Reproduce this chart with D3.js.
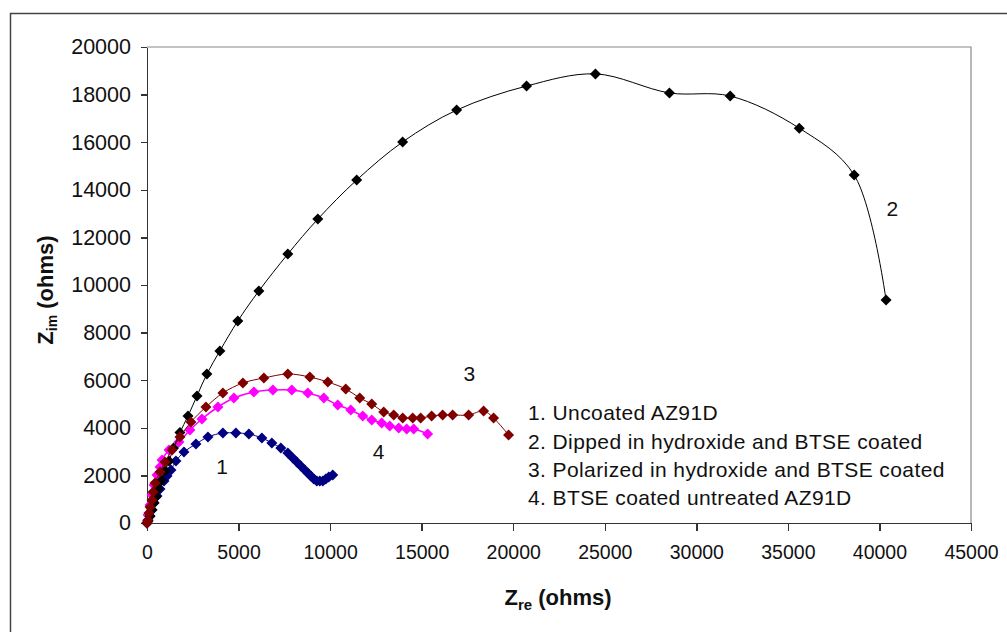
<!DOCTYPE html>
<html>
<head>
<meta charset="utf-8">
<script src="https://d3js.org/d3.v7.min.js"></script>
<style>
body { margin: 0; background: #fff; }
text { font-family: Arial, "Liberation Sans", sans-serif; fill: #111; }
.axis path, .axis line { stroke: #333; stroke-width: 1.5px; shape-rendering: crispEdges; }
.axis text { font-size: 21.5px; }
.axis.x text { font-size: 19.5px; }
.title { font-size: 22px; font-weight: bold; }
.note { font-size: 21px; }
.legend { font-size: 21px; letter-spacing: 0.4px; }
</style>
</head>
<body>
<script>
// Nyquist data (ohms)
var zre1 = [0, 55, 164, 273, 382, 545, 709, 927, 1091, 1309, 1582, 2018, 2673, 3327, 4145, 4855, 5564, 6273, 6818, 7309, 7691, 7964, 8182, 8400, 8618, 8782, 8945, 9109, 9273, 9436, 9600, 9764, 9927, 10145];
var zim1 = [0, 84, 294, 546, 840, 1134, 1429, 1765, 1975, 2227, 2605, 2983, 3319, 3614, 3782, 3782, 3740, 3572, 3362, 3151, 2941, 2731, 2563, 2395, 2227, 2101, 1975, 1849, 1765, 1765, 1765, 1849, 1933, 2017];

var zre2 = [0, 50, 160, 270, 380, 490, 600, 800, 1000, 1200, 1450, 1800, 2240, 2730, 3270, 3980, 4960, 6110, 7690, 9330, 11450, 13960, 16910, 20730, 24490, 28530, 31850, 35620, 38620, 40360];
var zim2 = [0, 100, 280, 560, 850, 1100, 1450, 1800, 2200, 2600, 3150, 3800, 4500, 5340, 6260, 7230, 8490, 9750, 11300, 12770, 14410, 16010, 17350, 18360, 18870, 18070, 17940, 16590, 14620, 9370];

var zre3 = [0, 55, 109, 164, 273, 327, 436, 709, 982, 1364, 1800, 2400, 3218, 4145, 5236, 6382, 7691, 8891, 9873, 10855, 11618, 12273, 12927, 13473, 13964, 14509, 14945, 15545, 16145, 16691, 17564, 18382, 18927, 19745];
var zim3 = [0, 126, 420, 672, 966, 1303, 1681, 2143, 2563, 3067, 3614, 4244, 4874, 5463, 5883, 6093, 6261, 6135, 5925, 5631, 5253, 5000, 4664, 4538, 4412, 4412, 4412, 4496, 4538, 4538, 4538, 4706, 4412, 3698];

var zre4 = [0, 55, 164, 273, 382, 545, 709, 818, 1200, 1745, 2345, 3000, 3873, 4745, 5836, 6873, 7909, 8782, 9655, 10418, 11127, 11782, 12273, 12818, 13255, 13745, 14182, 14564, 15327];
var zim4 = [0, 336, 756, 1176, 1597, 2017, 2353, 2647, 3067, 3403, 3908, 4370, 4874, 5253, 5505, 5589, 5589, 5463, 5253, 4958, 4748, 4496, 4328, 4202, 4076, 3992, 3950, 3950, 3740];

var xTicks = [0, 5000, 10000, 15000, 20000, 25000, 30000, 35000, 40000, 45000];
var yTicks = [0, 2000, 4000, 6000, 8000, 10000, 12000, 14000, 16000, 18000, 20000];

var legendLabels = ["1. Uncoated AZ91D", "2. Dipped in hydroxide and BTSE coated",
                    "3. Polarized in hydroxide and BTSE coated", "4. BTSE coated untreated AZ91D"];

// curve number labels placed in data units
var noteText = ["1", "2", "3", "4"];
var noteRe = [4100, 40700, 17600, 12650];
var noteIm = [2350, 13200, 6260, 2980];

var width = 1007, height = 632;

var svg = d3.select("body").append("svg")
    .attr("width", width)
    .attr("height", height);

// outer chart frame
svg.append("rect")
    .attr("x", 10.5).attr("y", 13.5)
    .attr("width", 1010).attr("height", 640)
    .attr("fill", "none")
    .attr("stroke", "#444")
    .attr("stroke-width", 1.5);

var x = d3.scaleLinear().domain([0, 45000]).range([147, 971]);
var y = d3.scaleLinear().domain([0, 20000]).range([523, 47]);

// plot area border (top/right grey)
svg.append("path")
    .attr("d", "M" + x(0) + "," + y(20000) + "H" + x(45000) + "V" + y(0))
    .attr("fill", "none")
    .attr("stroke", "#888")
    .attr("stroke-width", 1.2);

svg.append("g")
    .attr("class", "axis x")
    .attr("transform", "translate(0," + y(0) + ")")
    .call(d3.axisBottom(x).tickValues(xTicks).tickSize(8).tickSizeOuter(0).tickPadding(14).tickFormat(d3.format("d")));

svg.append("g")
    .attr("class", "axis y")
    .attr("transform", "translate(" + x(0) + ",0)")
    .call(d3.axisLeft(y).tickValues(yTicks).tickSize(6).tickSizeOuter(0).tickPadding(10).tickFormat(d3.format("d")));

// axis titles
var xt = svg.append("text").attr("class", "title")
    .attr("x", 558).attr("y", 605).attr("text-anchor", "middle");
xt.append("tspan").text("Z");
xt.append("tspan").attr("font-size", "15px").attr("dy", 5).text("re");
xt.append("tspan").attr("dy", -5).text(" (ohms)");

var yt = svg.append("text").attr("class", "title")
    .attr("font-size", "23px")
    .attr("transform", "translate(53,290) rotate(-90)")
    .attr("text-anchor", "middle");
yt.append("tspan").text("Z");
yt.append("tspan").attr("font-size", "14px").attr("dy", 4).text("im");
yt.append("tspan").attr("dy", -4).text(" (ohms)");

var series = [
  {re: zre1, im: zim1, color: "#000080", lw: 1},
  {re: zre4, im: zim4, color: "#ff00ff", lw: 1.5},
  {re: zre2, im: zim2, color: "#000000", lw: 1},
  {re: zre3, im: zim3, color: "#800000", lw: 1}
];

var line = d3.line()
    .x(function(d) { return x(d[0]); })
    .y(function(d) { return y(d[1]); })
    .curve(d3.curveCatmullRom.alpha(0.5));

var diamond = function(r) { return "M0," + (-r) + "L" + r + ",0L0," + r + "L" + (-r) + ",0Z"; };

series.forEach(function(s) {
  var pts = s.re.map(function(v, i) { return [v, s.im[i]]; });
  svg.append("path")
      .datum(pts)
      .attr("d", line)
      .attr("fill", "none")
      .attr("stroke", s.color)
      .attr("stroke-width", s.lw);
  svg.append("g").selectAll("path")
      .data(pts)
      .enter().append("path")
      .attr("d", diamond(5.5))
      .attr("transform", function(d) { return "translate(" + x(d[0]) + "," + y(d[1]) + ")"; })
      .attr("fill", s.color);
});

svg.selectAll("text.note")
    .data(noteText)
    .enter().append("text")
    .attr("class", "note")
    .attr("x", function(d, i) { return x(noteRe[i]); })
    .attr("y", function(d, i) { return y(noteIm[i]); })
    .attr("dy", "0.35em")
    .attr("text-anchor", "middle")
    .text(function(d) { return d; });

svg.selectAll("text.legend")
    .data(legendLabels)
    .enter().append("text")
    .attr("class", "legend")
    .attr("x", 528)
    .attr("y", function(d, i) { return 413 + i * 28.3; })
    .attr("dy", "0.35em")
    .text(function(d) { return d; });
</script>
</body>
</html>
